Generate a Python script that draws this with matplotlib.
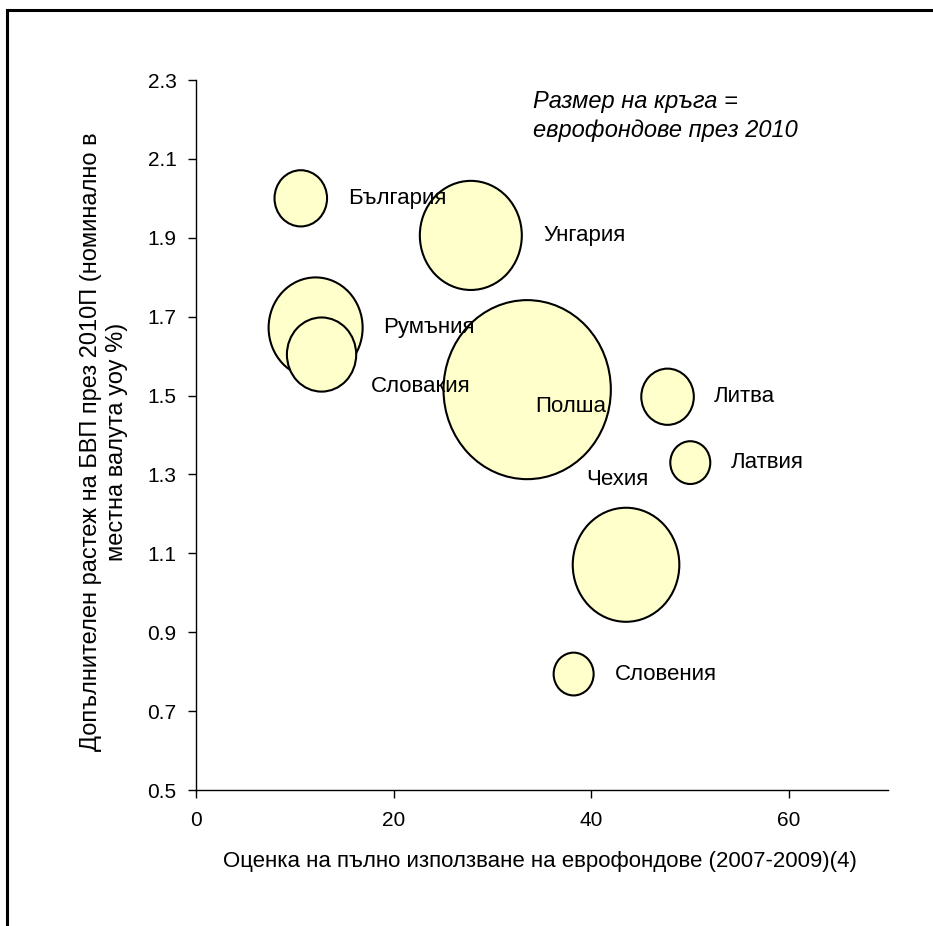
import matplotlib
matplotlib.use('Agg')
import matplotlib.pyplot as plt
import numpy as np
from matplotlib.path import Path
from matplotlib.transforms import Affine2D
from matplotlib.lines import Line2D

plt.rcParams['font.family'] = ['Liberation Sans', 'DejaVu Sans']

# ---- data ----
countries = ['България', 'Унгария', 'Румъния', 'Словакия', 'Полша',
             'Литва', 'Латвия', 'Чехия', 'Словения']
funds_usage = [10.6, 27.8, 12.1, 12.7, 33.5, 47.7, 50.0, 43.5, 38.2]
gdp_growth = [2.00, 1.906, 1.672, 1.604, 1.515, 1.497, 1.330, 1.071, 0.794]
eu_funds_2010 = [0.69, 2.60, 2.21, 1.20, 7.00, 0.69, 0.40, 2.84, 0.40]

x_ticks = [0, 20, 40, 60]
y_ticks = [0.5, 0.7, 0.9, 1.1, 1.3, 1.5, 1.7, 1.9, 2.1, 2.3]

x_title = 'Оценка на пълно използване на еврофондове (2007-2009)(4)'
y_title = 'Допълнителен растеж на БВП през 2010П (номинално в\nместна валута уоу %)'
note = 'Размер на кръга =\nеврофондове през 2010'

# ---- layout (label offsets in pixels from bubble centre) ----
label_offsets = [(47, 0), (73, 0), (68, 0), (49, -32), (8, -17),
                 (46, 0), (41, 0), (-40, 85), (41, 0)]

fig = plt.figure(figsize=(9.33, 9.26), dpi=100)
ax = fig.add_axes([196 / 933, 1 - 790 / 926, (888 - 196) / 933, (790 - 80) / 926])

ell = Affine2D().scale(1.0, 1.07).transform_path(Path.unit_circle())
order = np.argsort(eu_funds_2010)[::-1]
xs = np.array(funds_usage)[order]
ys = np.array(gdp_growth)[order]
ss = np.array(eu_funds_2010)[order] * 2374
ax.scatter(xs, ys, s=ss, marker=ell, facecolor='#FFFFCC', edgecolor='black',
           linewidth=1.5, zorder=2, clip_on=False)

for name, x, y, off in zip(countries, funds_usage, gdp_growth, label_offsets):
    ax.annotate(name, (x, y), xytext=off, textcoords='offset pixels',
                ha='left', va='center', fontsize=16, zorder=5)

ax.set_xlim(0, 70)
ax.set_ylim(0.5, 2.3)
ax.set_xticks(x_ticks)
ax.set_xticklabels([str(t) for t in x_ticks])
ax.set_yticks(y_ticks)
ax.set_yticklabels(['%.1f' % t for t in y_ticks])
for s in ['top', 'right']:
    ax.spines[s].set_visible(False)
for s in ['left', 'bottom']:
    ax.spines[s].set_linewidth(1)
ax.tick_params(axis='both', direction='out', length=6, width=1, labelsize=15)
ax.tick_params(axis='x', pad=9)
ax.tick_params(axis='y', pad=8)

fig.text(540 / 933, 1 - 862 / 926, x_title, ha='center', va='center', fontsize=16)
fig.text(104 / 933, 1 - 442 / 926, y_title, ha='center', va='center', fontsize=17,
         rotation=90, multialignment='center', linespacing=1.2)
fig.text(533 / 933, 1 - 116 / 926, note, ha='left', va='center', fontsize=17,
         style='italic', linespacing=1.32)

# chart frame (partially visible)
fig.add_artist(Line2D([7 / 933, 1], [1 - 10 / 926, 1 - 10 / 926], color='black', lw=2.2))
fig.add_artist(Line2D([7 / 933, 7 / 933], [0, 1 - 10 / 926], color='black', lw=2.2))

fig.savefig('out.png', dpi=100)
